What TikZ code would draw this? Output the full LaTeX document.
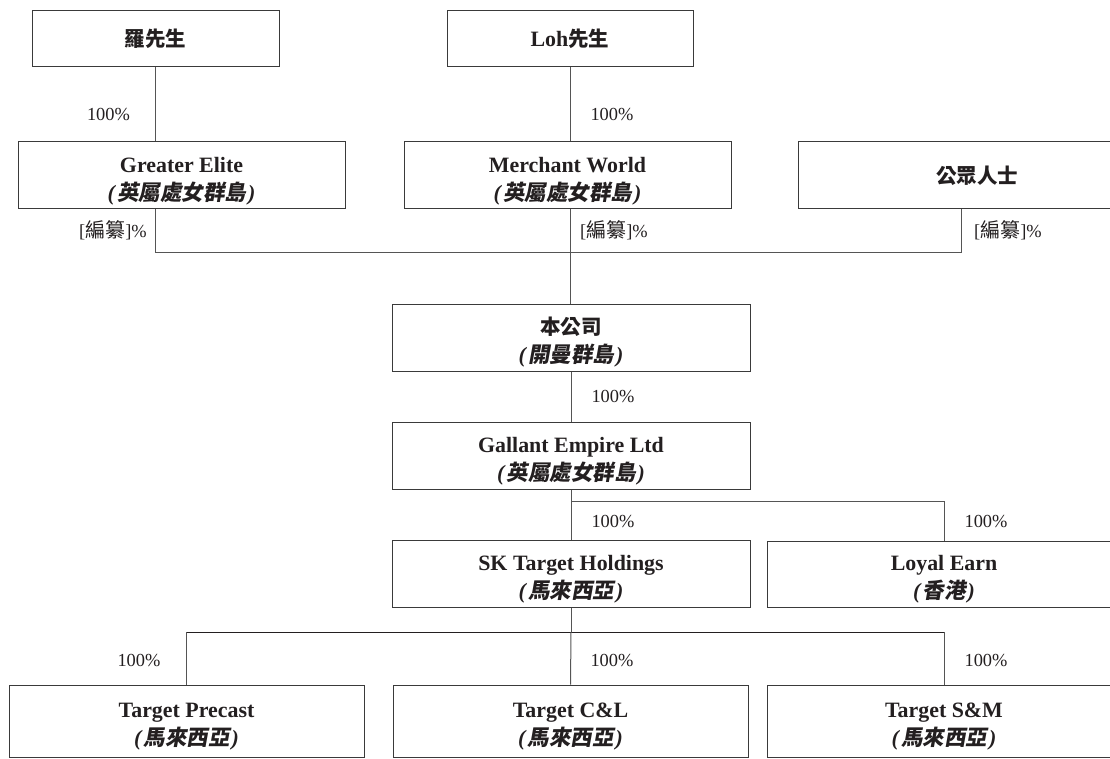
\documentclass[tikz,border=0pt]{standalone}
\usepackage{fontspec}
\setmainfont{Liberation Serif}
\newfontfamily\zhfont{Noto Sans CJK TC}
\newfontfamily\zhslfont{Noto Sans CJK TC}[FakeSlant=0.18]
\definecolor{ink}{HTML}{231F20}
\definecolor{edgecol}{HTML}{555555}
\definecolor{framecol}{HTML}{3A3A3A}
\newcommand{\zhb}[1]{{\zhfont\bfseries\fontsize{20.5}{28}\selectfont #1}}
\newcommand{\zhi}[1]{{\bfseries\itshape(}\kern2pt{\zhslfont\bfseries\fontsize{21.5}{28}\selectfont #1}\kern2pt{\bfseries\itshape)}}
\newcommand{\zhl}[1]{{\zhfont\fontsize{20}{24}\selectfont #1}}
\newcommand{\twol}[2]{\rule{0pt}{26pt}#1\\#2}
\tikzset{
  box/.style={draw=framecol, line width=1pt, rectangle, align=center, inner sep=0pt,
    text=ink, font=\bfseries\fontsize{21.9}{28}\selectfont},
  pct/.style={text=ink, inner sep=0pt, font=\fontsize{18.4}{20}\selectfont},
  link/.style={draw=edgecol, line width=1pt},
  darklink/.style={draw=ink, line width=1pt},
}
\begin{document}
\begin{tikzpicture}[x=1pt,y=-1pt]
\useasboundingbox (0,0) rectangle (1110,759);
\clip (0,0) rectangle (1110,759);
% boxes
\node[box, minimum width=247, minimum height=56] (luo) at (155.5,39) {\zhb{羅先生}};
\node[box, minimum width=246, minimum height=56] (loh) at (570,39) {Loh\zhb{先生}};
\node[box, minimum width=327, minimum height=67] (ge) at (181.5,175.5) {\twol{Greater Elite}{\zhi{英屬處女群島}}};
\node[box, minimum width=327, minimum height=67] (mw) at (567.5,175.5) {\twol{Merchant World}{\zhi{英屬處女群島}}};
\node[box, minimum width=358, minimum height=67] (pub) at (977,175.5) {\zhb{公眾人士}};
\node[box, minimum width=358, minimum height=67] (co) at (571,337.5) {\twol{\zhb{本公司}}{\zhi{開曼群島}}};
\node[box, minimum width=358, minimum height=67] (gal) at (571,455.5) {\twol{Gallant Empire Ltd}{\zhi{英屬處女群島}}};
\node[box, minimum width=358, minimum height=67] (sk) at (571,573.5) {\twol{SK Target Holdings}{\zhi{馬來西亞}}};
\node[box, minimum width=354, minimum height=66] (le) at (944,574) {\twol{Loyal Earn}{\zhi{香港}}};
\node[box, minimum width=355, minimum height=72] (tp) at (186.5,721) {\twol{Target Precast}{\zhi{馬來西亞}}};
\node[box, minimum width=355, minimum height=72] (tcl) at (570.5,721) {\twol{Target C\&L}{\zhi{馬來西亞}}};
\node[box, minimum width=354, minimum height=72] (tsm) at (944,721) {\twol{Target S\&M}{\zhi{馬來西亞}}};
% helper coordinates
\coordinate (bus1) at (156,253);
\coordinate (pubx) at (961,209);
\coordinate (bus2) at (571,501);
\coordinate (bus3) at (571,632);
% connectors
\draw[link] (luo.south) -- (luo.south |- ge.north);
\draw[link] (loh.south) -- (loh.south |- mw.north);
\draw[link] (luo.south |- ge.south) -- (luo.south |- bus1) -- (pubx |- bus1) -- (pubx);
\draw[link] (loh.south |- mw.south) -- (loh.south |- co.north);
\draw[link] (co.south) -- (gal.north);
\draw[link] (gal.south) -- (sk.north);
\draw[link] (bus2) -| (le.north);
\draw[link] (sk.south) -- (bus3);
\draw[link] (tp.north) -- (tp.north |- bus3);
\draw[link] (tsm.north) -- (tsm.north |- bus3);
\draw[darklink] (tp.north |- bus3) -- (tsm.north |- bus3);
\draw[link] (bus3) -- (tcl.north);
% labels
\node[pct] (p1) at (108.5,115) {100\%};
\node[pct] (p2) at (612,115) {100\%};
\node[pct] (e1) at (113,230) {[\zhl{編纂}]\%};
\node[pct] (e2) at (614,230) {[\zhl{編纂}]\%};
\node[pct] (e3) at (1008,230) {[\zhl{編纂}]\%};
\node[pct] (p3) at (613,397) {100\%};
\node[pct] (p4) at (613,521) {100\%};
\node[pct] (p5) at (986,521) {100\%};
\node[pct] (p6) at (139,660) {100\%};
\node[pct] (p7) at (612,660) {100\%};
\node[pct] (p8) at (986,660) {100\%};
\end{tikzpicture}
\end{document}
